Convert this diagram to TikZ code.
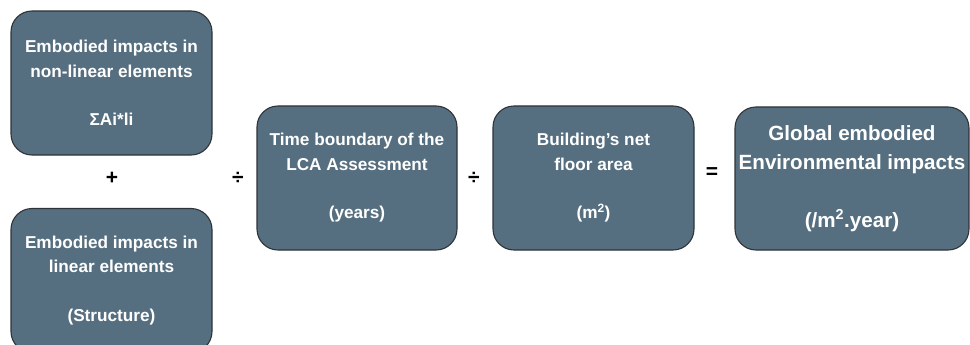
\documentclass[tikz,border=0pt]{standalone}
\usepackage{fontspec}
\setmainfont{Liberation Sans}
\definecolor{boxfill}{HTML}{566F80}
\definecolor{boxline}{HTML}{2E3438}
\begin{document}
\begin{tikzpicture}[x=1pt,y=-1pt,
  flowbox/.style={draw=boxline, line width=1.1pt, fill=boxfill, rounded corners=21pt,
    minimum height=144pt, inner sep=0pt, align=center, text=white,
    font=\fontsize{17.2}{24.5}\selectfont\bfseries},
  bigbox/.style={flowbox, font=\fontsize{20.6}{29}\selectfont\bfseries},
  opsym/.style={inner sep=0pt, font=\fontsize{21}{22}\selectfont\bfseries, text=black}]
\useasboundingbox (0,0) rectangle (970,345);
\clip (0,0) rectangle (970,345);
\node[flowbox, minimum width=201pt] (b1) at (111.5,83)
  {Embodied impacts in\\non-linear elements\\[24pt]ΣAi*li};
\node[flowbox, minimum width=201pt] (b2) at (111.5,280.5)
  {Embodied impacts in\\linear elements\\[24pt](Structure)};
\node[flowbox, minimum width=200pt] (b3) at (357,178)
  {Time boundary of the\\LCA Assessment\\[24pt](years)};
\node[flowbox, minimum width=201pt] (b4) at (593.5,178)
  {Building’s net\\floor area\\[24pt](m\textsuperscript{2})};
\node[bigbox, minimum width=234pt, minimum height=143pt] (b5) at (852,178.5)
  {Global embodied\\Environmental impacts\\[29pt](/m\textsuperscript{2}.year)};
\node[opsym] (plus) at (112,178) {+};
\node[opsym] (div1) at (238,178) {÷};
\node[opsym] (div2) at (474,178) {÷};
\node[opsym] (eq) at (712,173) {=};
\end{tikzpicture}
\end{document}
